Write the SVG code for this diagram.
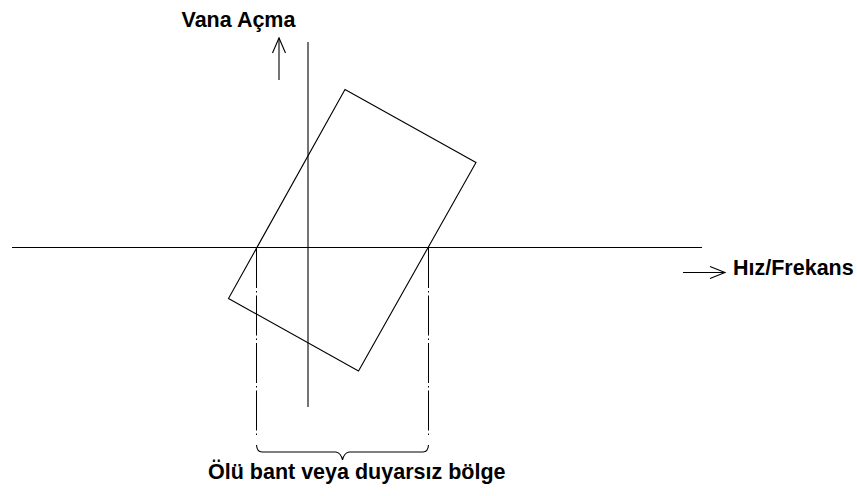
<svg xmlns="http://www.w3.org/2000/svg" width="857" height="496" viewBox="0 0 857 496">
<style>
.ln{stroke:#000;stroke-width:1.1;fill:none}
.dd{stroke:#000;stroke-width:1;fill:none;stroke-dasharray:40 3 1.5 3}
.lbl{font-family:"Liberation Sans",Arial,sans-serif;font-weight:bold;font-size:21.5px;fill:#000}
</style>
<rect width="857" height="496" fill="#fff"/>
<g id="axes">
<line class="ln" x1="12" y1="247.5" x2="702" y2="247.5"/>
<line class="ln" x1="308" y1="42" x2="308" y2="407"/>
</g>
<g id="rectangle">
<polygon class="ln" points="345,89.5 476,162.5 358.5,371 228.5,298.5"/>
</g>
<g id="connectors">
<line class="dd" x1="256.5" y1="248" x2="256.5" y2="437"/>
<line class="dd" x1="428.5" y1="248" x2="428.5" y2="437"/>
<path class="ln" d="M256.5,445 Q257,452 262,452 L336,452 Q341,453 342.5,460 Q344,453 349,452 L423,452 Q428,452 428.5,445"/>
<line class="ln" x1="279" y1="80" x2="279" y2="38"/>
<polyline class="ln" points="272.5,53 279,38 285.5,53"/>
<line class="ln" x1="683" y1="272.5" x2="725" y2="272.5"/>
<polyline class="ln" points="710,266.5 725,272.5 710,278.5"/>
</g>
<g id="labels">
<text class="lbl" x="181.5" y="27">Vana Açma</text>
<text class="lbl" x="733" y="275">Hız/Frekans</text>
<text class="lbl" x="208" y="479">Ölü bant veya duyarsız bölge</text>
</g>
</svg>
